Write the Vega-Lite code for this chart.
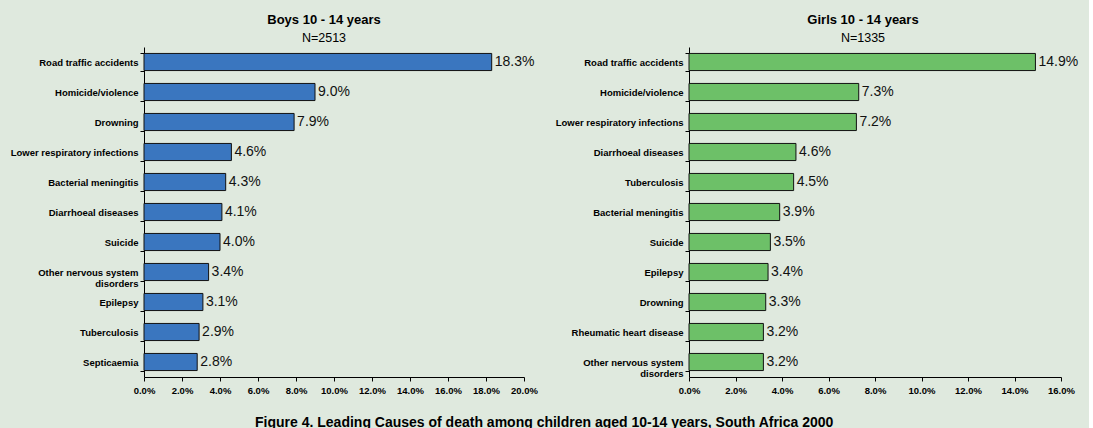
{
  "$schema": "https://vega.github.io/schema/vega-lite/v6.json",
  "background": "#dfe9de",
  "padding": {"left": 10, "top": 13, "right": 10, "bottom": 0},
  "config": {
    "font": "Liberation Sans",
    "view": {"stroke": null},
    "axis": {"domainColor": "#000", "tickColor": "#000", "labelColor": "#000", "grid": false, "labelFont": "Liberation Sans", "labelFontWeight": "bold", "labelFontSize": 9.5, "title": null, "tickSize": 4, "labelOverlap": false, "labelFlush": false},
    "title": {"color": "#000", "subtitleColor": "#000"}
  },
  "title": {"text": "Figure 4. Leading Causes of death among children aged 10-14 years, South Africa 2000", "orient": "bottom", "anchor": "middle", "fontSize": 14, "fontWeight": "bold", "font": "Liberation Sans", "offset": 21},
  "spacing": 17,
  "datasets": {
    "causes": [
      {"group": "Boys", "rank": 1, "cause": "Road traffic accidents", "share": 0.183},
      {"group": "Boys", "rank": 2, "cause": "Homicide/violence", "share": 0.090},
      {"group": "Boys", "rank": 3, "cause": "Drowning", "share": 0.079},
      {"group": "Boys", "rank": 4, "cause": "Lower respiratory infections", "share": 0.046},
      {"group": "Boys", "rank": 5, "cause": "Bacterial meningitis", "share": 0.043},
      {"group": "Boys", "rank": 6, "cause": "Diarrhoeal diseases", "share": 0.041},
      {"group": "Boys", "rank": 7, "cause": "Suicide", "share": 0.040},
      {"group": "Boys", "rank": 8, "cause": "Other nervous system disorders", "share": 0.034},
      {"group": "Boys", "rank": 9, "cause": "Epilepsy", "share": 0.031},
      {"group": "Boys", "rank": 10, "cause": "Tuberculosis", "share": 0.029},
      {"group": "Boys", "rank": 11, "cause": "Septicaemia", "share": 0.028},
      {"group": "Girls", "rank": 1, "cause": "Road traffic accidents", "share": 0.149},
      {"group": "Girls", "rank": 2, "cause": "Homicide/violence", "share": 0.073},
      {"group": "Girls", "rank": 3, "cause": "Lower respiratory infections", "share": 0.072},
      {"group": "Girls", "rank": 4, "cause": "Diarrhoeal diseases", "share": 0.046},
      {"group": "Girls", "rank": 5, "cause": "Tuberculosis", "share": 0.045},
      {"group": "Girls", "rank": 6, "cause": "Bacterial meningitis", "share": 0.039},
      {"group": "Girls", "rank": 7, "cause": "Suicide", "share": 0.035},
      {"group": "Girls", "rank": 8, "cause": "Epilepsy", "share": 0.034},
      {"group": "Girls", "rank": 9, "cause": "Drowning", "share": 0.033},
      {"group": "Girls", "rank": 10, "cause": "Rheumatic heart disease", "share": 0.032},
      {"group": "Girls", "rank": 11, "cause": "Other nervous system disorders", "share": 0.032}
    ]
  },
  "hconcat": [
    {
      "data": {"name": "causes"},
      "transform": [{"filter": "datum.group == 'Boys'"}],
      "width": 380,
      "height": 330,
      "title": {"text": "Boys 10 - 14 years", "subtitle": "N=2513", "fontSize": 13, "fontWeight": "bold", "subtitleFontSize": 12.5, "subtitleFont": "Liberation Sans", "offset": -2, "subtitlePadding": 5, "dx": -10, "anchor": "middle"},
      "encoding": {
        "y": {"field": "cause", "type": "nominal", "sort": {"field": "rank", "op": "min", "order": "ascending"},
              "scale": {"paddingInner": 0.43, "paddingOuter": 0.215},
              "axis": {"tickBand": "extent", "labelPadding": 2, "labelExpr": "datum.label == 'Other nervous system disorders' ? ['Other nervous system', 'disorders'] : datum.label", "labelLineHeight": 11}},
        "x": {"field": "share", "type": "quantitative", "scale": {"domain": [0, 0.2]},
              "axis": {"values": [0, 0.02, 0.04, 0.06, 0.08, 0.1, 0.12, 0.14, 0.16, 0.18, 0.2], "format": ".1%", "labelPadding": 4}}
      },
      "layer": [
        {"mark": {"type": "bar", "fill": "#3a76bf", "stroke": "#111", "strokeWidth": 1}},
        {"mark": {"type": "text", "align": "left", "baseline": "middle", "dx": 3, "fontSize": 14, "font": "Liberation Sans", "color": "#111"},
         "encoding": {"text": {"field": "share", "type": "quantitative", "format": ".1%"}}}
      ]
    },
    {
      "data": {"name": "causes"},
      "transform": [{"filter": "datum.group == 'Girls'"}],
      "width": 372,
      "height": 330,
      "title": {"text": "Girls 10 - 14 years", "subtitle": "N=1335", "fontSize": 13, "fontWeight": "bold", "subtitleFontSize": 12.5, "subtitleFont": "Liberation Sans", "offset": -2, "subtitlePadding": 5, "dx": -12, "anchor": "middle"},
      "encoding": {
        "y": {"field": "cause", "type": "nominal", "sort": {"field": "rank", "op": "min", "order": "ascending"},
              "scale": {"paddingInner": 0.43, "paddingOuter": 0.215},
              "axis": {"tickBand": "extent", "labelPadding": 2, "labelExpr": "datum.label == 'Other nervous system disorders' ? ['Other nervous system', 'disorders'] : datum.label", "labelLineHeight": 11}},
        "x": {"field": "share", "type": "quantitative", "scale": {"domain": [0, 0.16]},
              "axis": {"values": [0, 0.02, 0.04, 0.06, 0.08, 0.1, 0.12, 0.14, 0.16], "format": ".1%", "labelPadding": 4}}
      },
      "layer": [
        {"mark": {"type": "bar", "fill": "#6dc068", "stroke": "#111", "strokeWidth": 1}},
        {"mark": {"type": "text", "align": "left", "baseline": "middle", "dx": 3, "fontSize": 14, "font": "Liberation Sans", "color": "#111"},
         "encoding": {"text": {"field": "share", "type": "quantitative", "format": ".1%"}}}
      ]
    }
  ]
}
